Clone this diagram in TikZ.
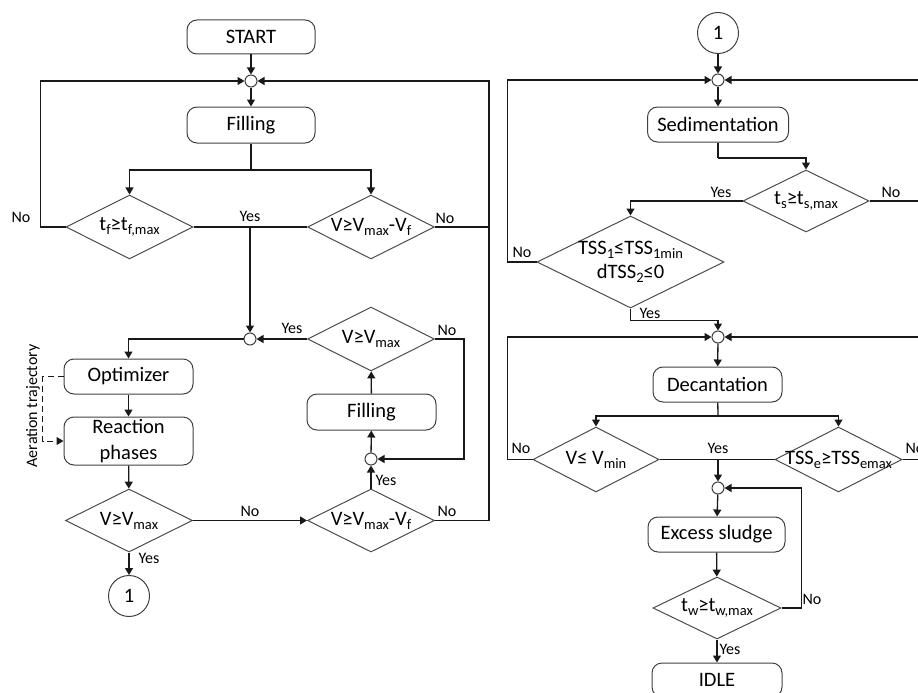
\documentclass[tikz,border=0pt]{standalone}
\usepackage{fontspec}
\setmainfont{Carlito}
\usetikzlibrary{arrows.meta,shapes.geometric}
\newcommand\sbs[1]{\raisebox{-4pt}{\fontsize{14.5}{14.5}\selectfont #1}}
\begin{document}
\begin{tikzpicture}[x=1pt,y=-1pt,
  line width=1.3pt, draw=black!90,
  arr/.style={-{Triangle[length=7pt,width=8pt]}},
  box/.style={draw=black!75, line width=1pt, rounded corners=10pt, minimum height=35pt, inner sep=0pt, font=\fontsize{20.5}{23}\selectfont},
  dia/.style={draw=black!70, line width=1pt, diamond, inner sep=0pt, minimum width=127pt, minimum height=64pt, font=\fontsize{20.5}{23}\selectfont},
  jn/.style={circle, draw=black!75, line width=1pt, fill=white, minimum size=12pt, inner sep=0pt},
  conn/.style={circle, draw=black!75, line width=1pt, minimum size=41pt, inner sep=0pt, font=\fontsize{20.5}{23}\selectfont},
  lbl/.style={font=\fontsize{16}{18}\selectfont, inner sep=0pt},
]
\useasboundingbox (0,0) rectangle (918,693);
\clip (0,0) rectangle (918,693);

% ---------- left column ----------
\node[box, minimum width=128pt, minimum height=34pt] (start) at (251,37) {START};
\node[jn] (j1) at (251,81) {};
\node[box, minimum width=128pt, minimum height=36pt] (fill1) at (251,125) {Filling};
\node[dia] (d1) at (129.5,227) {\makebox[0pt]{t\sbs{f}≥t\sbs{f,max}}};
\node[dia] (d2) at (371,227) {\makebox[0pt]{V≥V\sbs{max}-V\sbs{f}}};
\node[jn] (j2) at (250,339) {};
\node[dia] (d3) at (371,339) {\makebox[0pt]{V≥V\sbs{max}}};
\node[box, minimum width=129pt, minimum height=36pt] (fill2) at (371.5,412) {Filling};
\node[jn] (j3) at (371,459) {};
\node[box, minimum width=129pt, minimum height=35pt] (opt) at (128.5,376.5) {Optimizer};
\node[box, minimum width=129pt, minimum height=48pt, align=center] (reac) at (128.5,441) {Reaction\\[3pt]phases};
\node[dia, minimum height=63pt] (d4) at (129,520.5) {\makebox[0pt]{V≥V\sbs{max}}};
\node[dia, minimum height=63pt] (d5) at (371,520.5) {\makebox[0pt]{V≥V\sbs{max}-V\sbs{f}}};
\node[conn] (c1) at (129,596) {1};
\node[lbl, rotate=90] (aer) at (33,406) {Aeration trajectory};

\coordinate (s1) at (251,170);
\draw[arr] (start) -- (j1);
\draw[arr] (j1) -- (fill1);
\draw (fill1) -- (s1);
\draw[arr] (s1) -| (d1);
\draw[arr] (s1) -| (d2);
\draw[arr] (d1.west) -- ++(-25,0) |- (j1);
\draw (d2.east) -- ++(54,0);
\draw[arr] (d5.east) -- ++(54,0) |- (j1);
\draw (d1.east) -- (d2.west);
\draw[arr] (d1.east -| j2) -- (j2);
\draw[arr] (d3.west) -- (j2);
\draw[arr] (j2) -| (opt);
\draw[arr] (opt) -- (reac);
\draw[arr, dashed, dash pattern=on 6pt off 4pt, line width=1pt] (opt.west) -- ++(-21,0) |- (reac.west);
\draw[arr] (reac) -- (d4);
\draw[arr] (d4) -- (c1);
\draw[arr] (d4) -- (d5);
\draw[arr] (d5) -- (j3);
\draw[arr] (d3.east) -- ++(29,0) |- (j3);
\draw[arr] (j3) -- (fill2);
\draw[arr] (fill2) -- (d3);

\node[lbl] (l1) at (21,217) {No};
\node[lbl] (l2) at (250,216) {Yes};
\node[lbl] (l3) at (445,218) {No};
\node[lbl] (l4) at (292,328) {Yes};
\node[lbl] (l5) at (447,330) {No};
\node[lbl] (l6) at (386,480) {Yes};
\node[lbl] (l7) at (250,511) {No};
\node[lbl] (l8) at (447,511) {No};
\node[lbl] (l9) at (149,558) {Yes};

% ---------- right column ----------
\node[conn] (c2) at (718,33) {1};
\node[jn] (j4) at (718,80) {};
\node[box, minimum width=141pt] (sed) at (718,124.5) {Sedimentation};
\node[dia, minimum width=126pt, minimum height=62pt] (d6) at (806,201) {\makebox[0pt]{t\sbs{s}≥t\sbs{s,max}}};
\node[dia, minimum width=187pt, minimum height=92pt] (d7) at (630.5,262) {\makebox[0pt]{\begin{tabular}{@{}c@{}}TSS\sbs{1}≤TSS\sbs{1min}\\[1pt]dTSS\sbs{2}≤0\end{tabular}}};
\node[jn] (j5) at (718,337) {};
\node[box, minimum width=129pt] (dec) at (717.5,384.5) {Decantation};
\node[dia, minimum width=126pt, minimum height=65pt] (d8) at (596,459.5) {\makebox[0pt]{V≤ V\sbs{min}}};
\node[dia, minimum width=127pt, minimum height=65pt] (d9) at (838.5,459.5) {\makebox[0pt]{TSS\sbs{e}≥TSS\sbs{emax}}};
\node[jn] (j6) at (718,488) {};
\node[box, minimum width=137pt] (exc) at (716.5,534.5) {Excess sludge};
\node[dia, minimum width=128pt, minimum height=62pt] (d10) at (717,608) {\makebox[0pt]{t\sbs{w}≥t\sbs{w,max}}};
\node[box, minimum width=130pt, minimum height=34pt] (idle) at (717,680) {IDLE};

\coordinate (s2) at (718,158);
\coordinate (s3) at (718,416);
\draw[arr] (c2) -- (j4);
\draw[arr] (j4) -- (sed);
\draw (sed) -- (s2);
\draw[arr] (s2) -| (d6);
\draw[arr] (d6.west) -| (d7);
\draw[arr] (d6.east) -- ++(60,0) |- (j4);
\draw[arr] (d7.west) -- ++(-29,0) |- (j4);
\draw[arr] (d7.south) -- ++(0,12) -| (j5);
\draw[arr] (j5) -- (dec);
\draw (dec) -- (s3);
\draw[arr] (s3) -| (d8);
\draw[arr] (s3) -| (d9);
\draw (d8) -- (d9);
\draw[arr] (d8.east -| j6) -- (j6);
\draw[arr] (d8.west) -- ++(-25,0) |- (j5);
\draw[arr] (d9.east) -- ++(27,0) |- (j5);
\draw[arr] (j6) -- (exc);
\draw[arr] (exc) -- (d10);
\draw[arr] (d10.east) -- ++(20,0) |- (j6);
\draw[arr] (d10) -- (idle);

\node[lbl] (r1) at (721,192) {Yes};
\node[lbl] (r2) at (891,192) {No};
\node[lbl] (r3) at (522,252) {No};
\node[lbl] (r4) at (650,313) {Yes};
\node[lbl] (r5) at (521,448) {No};
\node[lbl] (r6) at (718,448) {Yes};
\node[lbl, anchor=west] (r7) at (905,448) {No};
\node[lbl] (r8) at (812,599) {No};
\node[lbl] (r9) at (730,649) {Yes};
\end{tikzpicture}
\end{document}
